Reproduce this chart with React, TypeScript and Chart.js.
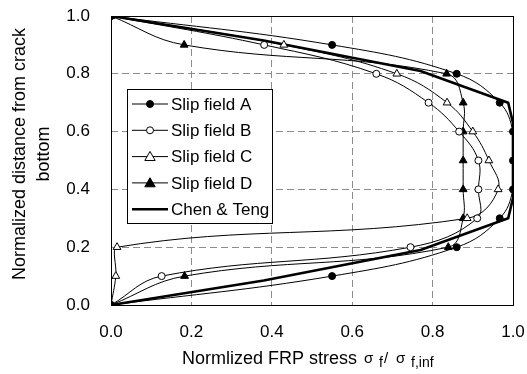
import React, { useEffect, useRef } from 'react';
import { Chart, registerables } from 'chart.js';

Chart.register(...registerables);

// Normalized distance from crack bottom (shared by the slip field series)
const levels = [0, 0.1, 0.2, 0.3, 0.4, 0.5, 0.6, 0.7, 0.8, 0.9, 1.0];
// Normalized FRP stress for each slip field
const slipA = [0, 0.55, 0.86, 0.967, 1.0, 1.0, 1.0, 0.967, 0.86, 0.55, 0];
const slipB = [0, 0.126, 0.745, 0.911, 0.914, 0.914, 0.866, 0.79, 0.66, 0.381, 0];
const slipC = [0, 0.012, 0.015, 0.886, 0.963, 0.94, 0.9, 0.836, 0.711, 0.43, 0];
const slipD = [0, 0.183, 0.839, 0.876, 0.876, 0.876, 0.876, 0.876, 0.835, 0.182, 0];
// Chen & Teng model
const chenTengX = [0, 0.38, 0.77, 0.988, 1.0, 1.0, 0.988, 0.77, 0.38, 0];
const chenTengY = [0, 0.085, 0.19, 0.3, 0.37, 0.63, 0.7, 0.81, 0.915, 1.0];

const xTicks = [0, 0.2, 0.4, 0.6, 0.8, 1.0];
const yTicks = [0, 0.2, 0.4, 0.6, 0.8, 1.0];

const legendLabels = ['Slip field A', 'Slip field B', 'Slip field C', 'Slip field D', 'Chen & Teng'];
const yTitleLines = ['Normalized distance from crack', 'bottom'];
const xTitleMain = 'Normlized FRP stress';

const FONT = 'Arial, "Liberation Sans", sans-serif';
const TICK_FS = 17;
const LEG_FS = 17;
const TITLE_FS = 18;

const pair = (xs: number[], ys: number[]) => xs.map((x, i) => ({ x, y: ys[i] }));

export default function App() {
  const ref = useRef<HTMLCanvasElement>(null);

  useEffect(() => {
    if (!ref.current) return;

    const framePlugin = {
      id: 'frame',
      beforeDatasetsDraw(chart: any) {
        const { ctx, chartArea: a } = chart;
        ctx.save();
        ctx.strokeStyle = '#000';
        ctx.lineWidth = 1;
        ctx.strokeRect(Math.round(a.left) + 0.5, Math.round(a.top) + 0.5, Math.round(a.right - a.left), Math.round(a.bottom - a.top));
        ctx.restore();
      },
    };

    const drawMarker = (ctx: CanvasRenderingContext2D, style: string, filled: boolean, x: number, y: number, r: number) => {
      ctx.beginPath();
      if (style === 'circle') {
        ctx.arc(x, y, r, 0, Math.PI * 2);
      } else if (style === 'triangle') {
        const s = r * 1.15;
        ctx.moveTo(x, y - s);
        ctx.lineTo(x + s, y + s * 0.75);
        ctx.lineTo(x - s, y + s * 0.75);
        ctx.closePath();
      }
      ctx.fillStyle = filled ? '#000' : '#fff';
      ctx.fill();
      ctx.lineWidth = 1;
      ctx.strokeStyle = '#000';
      ctx.stroke();
    };

    const legendPlugin = {
      id: 'boxLegend',
      afterDatasetsDraw(chart: any) {
        const { ctx } = chart;
        const bx = 127, by = 89, bw = 145, bh = 134;
        ctx.save();
        ctx.fillStyle = '#fff';
        ctx.fillRect(bx, by, bw, bh);
        ctx.strokeStyle = '#000';
        ctx.lineWidth = 1;
        ctx.strokeRect(bx + 0.5, by + 0.5, bw, bh);
        chart.data.datasets.forEach((ds: any, i: number) => {
          const y = by + 15 + i * 26.3;
          ctx.beginPath();
          ctx.moveTo(bx + 5, y);
          ctx.lineTo(bx + 41, y);
          ctx.strokeStyle = '#000';
          ctx.lineWidth = ds.borderWidth;
          ctx.stroke();
          if (ds.pointRadius > 0) {
            drawMarker(ctx, ds.pointStyle, ds.pointBackgroundColor === '#000', bx + 23, y, ds.pointRadius);
          }
          ctx.fillStyle = '#000';
          ctx.font = `${LEG_FS}px ${FONT}`;
          ctx.textAlign = 'left';
          ctx.textBaseline = 'middle';
          ctx.fillText(legendLabels[i], bx + 44, y + 1);
        });
        ctx.restore();
      },
    };

    const titlesPlugin = {
      id: 'titles',
      afterDraw(chart: any) {
        const { ctx } = chart;
        ctx.save();
        ctx.fillStyle = '#000';
        // y title (two lines, rotated)
        ctx.save();
        ctx.translate(20, 154);
        ctx.rotate(-Math.PI / 2);
        ctx.font = `${TITLE_FS}px ${FONT}`;
        ctx.textAlign = 'center';
        ctx.textBaseline = 'middle';
        ctx.fillText(yTitleLines[0], 0, 0);
        ctx.fillText(yTitleLines[1], 0, 24);
        ctx.restore();
        // x title with symbols and subscripts
        ctx.textAlign = 'left';
        ctx.textBaseline = 'alphabetic';
        const x0 = 182;
        const base = 364;
        ctx.font = `${TITLE_FS}px ${FONT}`;
        ctx.fillText(xTitleMain, x0, base);
        const s = x0 + ctx.measureText(xTitleMain).width + 7;
        const big = `15px ${FONT}`;
        const sub = `14px ${FONT}`;
        const parts: [string, string, number, number][] = [
          ['σ', big, 0, -1],
          ['f', sub, 15, 3],
          ['/', big, 20, -1],
          ['σ', big, 32, -1],
          ['f,inf', sub, 47, 3],
        ];
        parts.forEach(([t, f, dx, dy]) => {
          ctx.font = f;
          ctx.fillText(t, s + dx, base + dy);
        });
        ctx.restore();
      },
    };

    const gridColor = (c: any) => {
      const v = c.tick ? c.tick.value : null;
      return v === 0 || v === 1 ? 'rgba(0,0,0,0)' : '#8c8c8c';
    };

    const line = { showLine: true, borderColor: '#000', pointBorderColor: '#000', pointBorderWidth: 1 };

    const chart = new Chart(ref.current, {
      type: 'scatter',
      data: {
        datasets: [
          { ...line, label: legendLabels[0], data: pair(slipA, levels), borderWidth: 1, tension: 0.4, pointStyle: 'circle', pointRadius: 3.5, pointBackgroundColor: '#000' },
          { ...line, label: legendLabels[1], data: pair(slipB, levels), borderWidth: 1, tension: 0.4, pointStyle: 'circle', pointRadius: 3.5, pointBackgroundColor: '#fff' },
          { ...line, label: legendLabels[2], data: pair(slipC, levels), borderWidth: 1, tension: 0.4, pointStyle: 'triangle', pointRadius: 4.5, pointBackgroundColor: '#fff' },
          { ...line, label: legendLabels[3], data: pair(slipD, levels), borderWidth: 1, tension: 0.4, pointStyle: 'triangle', pointRadius: 4.5, pointBackgroundColor: '#000' },
          { ...line, label: legendLabels[4], data: pair(chenTengX, chenTengY), borderWidth: 2.6, tension: 0, pointStyle: 'circle', pointRadius: 0, pointBackgroundColor: '#000' },
        ] as any,
      },
      options: {
        animation: false,
        responsive: false,
        maintainAspectRatio: false,
        layout: { padding: { left: 0, top: 16, right: 14, bottom: 0 } },
        plugins: { legend: { display: false }, tooltip: { enabled: false } },
        scales: {
          x: {
            type: 'linear',
            min: 0,
            max: 1,
            afterBuildTicks: (s: any) => { s.ticks = xTicks.map((v) => ({ value: v })); },
            afterFit: (s: any) => { s.height = 69; s.paddingLeft = 0; s.paddingRight = 0; },
            ticks: { color: '#000', font: { family: FONT, size: TICK_FS }, padding: 17, callback: (v: any) => Number(v).toFixed(1), maxRotation: 0 },
            grid: { color: gridColor, lineWidth: 1, drawTicks: false },
            border: { display: false, dash: [7, 4] },
          },
          y: {
            type: 'linear',
            min: 0,
            max: 1,
            afterBuildTicks: (s: any) => { s.ticks = yTicks.map((v) => ({ value: v })); },
            afterFit: (s: any) => { s.width = 111; s.paddingTop = 0; s.paddingBottom = 0; },
            ticks: { color: '#000', font: { family: FONT, size: TICK_FS }, padding: 21, callback: (v: any) => Number(v).toFixed(1) },
            grid: { color: gridColor, lineWidth: 1, drawTicks: false },
            border: { display: false, dash: [7, 4] },
          },
        },
      },
      plugins: [framePlugin, legendPlugin, titlesPlugin],
    } as any);

    return () => chart.destroy();
  }, []);

  return (
    <div style={{ position: 'fixed', left: 0, top: 0, width: 527, height: 374, background: '#fff' }}>
      <canvas ref={ref} width={527} height={374} style={{ display: 'block' }} />
    </div>
  );
}
